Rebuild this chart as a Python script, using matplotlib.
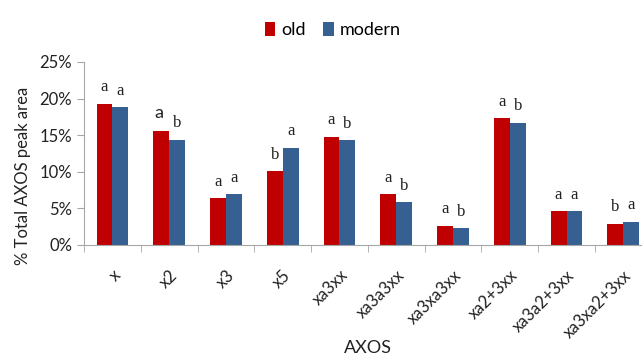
import numpy as np
import matplotlib.pyplot as plt

plt.rcParams['font.family'] = ['Lato', 'DejaVu Sans']

categories = ['x', 'x2', 'x3', 'x5', 'xa3xx', 'xa3a3xx', 'xa3xa3xx',
              'xa2+3xx', 'xa3a2+3xx', 'xa3xa2+3xx']
old = [19.3, 15.6, 6.4, 10.1, 14.8, 6.9, 2.6, 17.3, 4.6, 2.9]
modern = [18.8, 14.4, 6.9, 13.3, 14.3, 5.8, 2.3, 16.7, 4.6, 3.2]
old_letters = ['a', 'a', 'a', 'b', 'a', 'a', 'a', 'a', 'a', 'b']
modern_letters = ['a', 'b', 'a', 'a', 'b', 'b', 'b', 'b', 'a', 'a']

red = '#C00000'
blue = '#376092'
grey = '#A6A6A6'

fig = plt.figure(figsize=(6.42, 3.56), dpi=100)
ax = fig.add_axes([0.131, 0.312, 0.884, 0.514])

x = np.arange(len(categories))
w = 0.28
b1 = ax.bar(x - w / 2, old, w, color=red, label='old')
b2 = ax.bar(x + w / 2, modern, w, color=blue, label='modern')

# significance letters over each bar
for i in range(len(categories)):
    if i == 1:
        ax.annotate(old_letters[i], (x[i] - w / 2, old[i]), xytext=(-2, 9),
                    textcoords='offset points', ha='center', va='baseline',
                    fontsize=13, color='#222222')
    else:
        ax.annotate(old_letters[i], (x[i] - w / 2, old[i]), xytext=(0, 9),
                    textcoords='offset points', ha='center', va='baseline',
                    fontsize=12, family='Liberation Serif', color='#222222')
    ax.annotate(modern_letters[i], (x[i] + w / 2, modern[i]), xytext=(0, 9),
                textcoords='offset points', ha='center', va='baseline',
                fontsize=12, family='Liberation Serif', color='#222222')

ax.set_xlim(-0.5, len(categories) - 0.5)
ax.set_ylim(0, 25)
ax.set_yticks([0, 5, 10, 15, 20, 25])
ax.set_yticklabels(['0%', '5%', '10%', '15%', '20%', '25%'])

ax.set_xticks(x)
ax.set_xticklabels(categories, rotation=45, ha='right', rotation_mode='anchor')
ax.set_xticks(np.arange(-0.5, len(categories), 1), minor=True)
ax.tick_params(axis='x', which='major', length=0, pad=16, labelsize=12,
               colors='#222222')
ax.tick_params(axis='x', which='minor', length=5, color=grey, direction='out')
ax.tick_params(axis='y', length=5, color=grey, labelsize=12, colors='#222222')
ax.tick_params(axis='y', color=grey)

for s in ['top', 'right']:
    ax.spines[s].set_visible(False)
for s in ['left', 'bottom']:
    ax.spines[s].set_color(grey)

ax.set_ylabel('% Total AXOS peak area', fontsize=12, color='#222222')
ax.yaxis.set_label_coords(-0.093, 0.38)
ax.set_xlabel('AXOS', fontsize=13, color='#222222')
ax.xaxis.set_label_coords(0.5, -0.565)
ax.xaxis.label.set_va('center')

fig.legend(handles=[b1, b2], loc='center', bbox_to_anchor=(0.518, 0.915),
           ncol=2, frameon=False, fontsize=13, handlelength=0.6,
           handleheight=0.8, handletextpad=0.3, columnspacing=1.0)

fig.savefig('out.png', dpi=100)
